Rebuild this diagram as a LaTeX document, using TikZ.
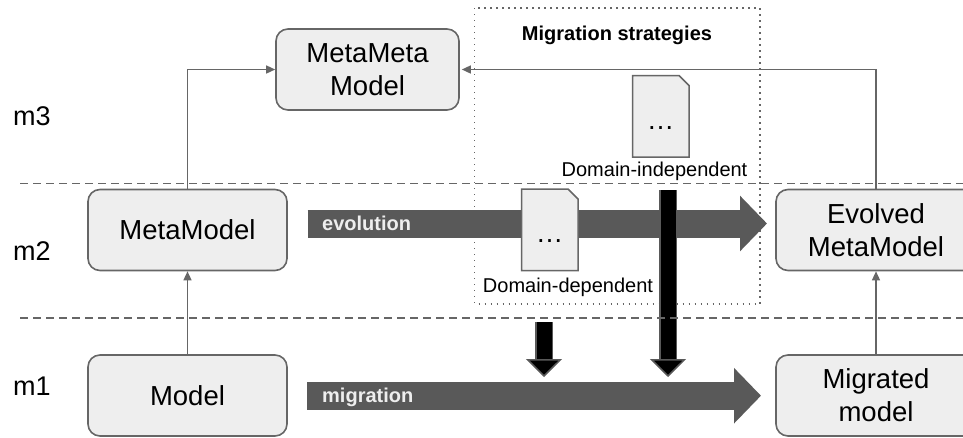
\documentclass[tikz,border=0pt]{standalone}
\usepackage{fontspec}
\setmainfont{Liberation Sans}
\usetikzlibrary{arrows.meta}
\definecolor{linegray}{HTML}{666666}
\definecolor{fillgray}{HTML}{EEEEEE}
\definecolor{bargray}{HTML}{595959}
\tikzset{
  modelbox/.style={draw=linegray,fill=fillgray,line width=1.6pt,rounded corners=12pt,align=center,
    font=\fontsize{27.5}{33}\selectfont,text=black,inner sep=0pt},
  levelline/.style={draw=linegray,line width=1.1pt,dash pattern=on 8pt off 5pt},
  link/.style={draw=linegray,line width=1.4pt,-{Triangle[length=9pt,width=8pt]}},
  fatarrow/.style={draw=bargray,line width=28pt,-{Triangle[length=27pt,width=54pt]}},
  blackarrow/.style={draw=bargray,line width=1.5pt,double=black,double distance=15pt,
    -{Triangle[length=18pt,width=36pt,fill=black,line width=1.5pt]}},
  docpage/.style={draw=linegray,fill=fillgray,line width=1.5pt},
  framebox/.style={draw=linegray,line width=1.4pt,dash pattern=on 1.4pt off 4.6pt},
  levellabel/.style={anchor=base west,inner sep=0pt,font=\fontsize{27}{32}\selectfont},
  smalllabel/.style={anchor=base,inner sep=0pt,font=\fontsize{20}{24}\selectfont},
  barlabel/.style={anchor=base west,inner sep=0pt,text=fillgray,font=\fontsize{20}{24}\selectfont\bfseries}
}
\begin{document}
\begin{tikzpicture}[x=1pt,y=-1pt]
  \clip (0,0) rectangle (963,437);
  % strategies frame
  \draw[framebox] (474.5,8) rectangle (760,304);
  \node[smalllabel,font=\fontsize{20}{24}\selectfont\bfseries] (strategies) at (617,40.5) {Migration strategies};

  % boxes
  \node[modelbox,minimum width=183pt,minimum height=81pt] (metameta) at (367.5,69.5) {MetaMeta\\Model};
  \node[modelbox,minimum width=199pt,minimum height=81pt] (metamodel) at (187.5,230) {MetaModel};
  \node[modelbox,minimum width=199pt,minimum height=81pt] (model) at (187.5,395.5) {Model};
  \node[modelbox,minimum width=200pt,minimum height=81pt] (evolved) at (876,230) {Evolved\\MetaModel};
  \node[modelbox,minimum width=200pt,minimum height=81pt] (migrated) at (876,395.5) {Migrated\\model};

  \node[levellabel] (m3) at (13,125) {m3};
  \node[levellabel] (m2) at (13,260) {m2};
  \node[levellabel] (m1) at (13,395) {m1};

  % links between levels
  \draw[link] (metamodel.north) |- (metameta.west);
  \draw[link] (evolved.north) |- ([xshift=2pt]metameta.east);
  \draw[link] (model.north) -- (metamodel.south);
  \draw[link] (migrated.north) -- (evolved.south);

  % evolution and migration
  \coordinate (evostart) at (307.5,223.5);
  \coordinate (evoend) at (767,223.5);
  \coordinate (migstart) at (307,395.7);
  \coordinate (migend) at (761,395.7);
  \draw[fatarrow] (evostart) -- (evoend);
  \draw[fatarrow] (migstart) -- (migend);
  \node[barlabel] (evolution) at (322,230.5) {evolution};
  \node[barlabel] (migration) at (322,402.5) {migration};

  % documents
  \draw[docpage] (632.5,75.5) -- (679,75.5) -- (689,85.5) -- (689,157) -- (632.5,157) -- cycle;
  \node[anchor=base,inner sep=0pt,font=\fontsize{27.5}{33}\selectfont] (docindep) at (660.5,129) {…};
  \node[smalllabel] (indeplabel) at (654.5,176) {Domain-independent};
  \draw[docpage] (521.5,189) -- (568,189) -- (578,199) -- (578,270.5) -- (521.5,270.5) -- cycle;
  \node[anchor=base,inner sep=0pt,font=\fontsize{27.5}{33}\selectfont] (docdep) at (549.5,242.5) {…};
  \node[smalllabel] (deplabel) at (568,292) {Domain-dependent};

  % black arrows
  \coordinate (longstart) at (668,190);
  \coordinate (longend) at (668,377);
  \coordinate (shortstart) at (544,322);
  \coordinate (shortend) at (544,377);
  \draw[blackarrow] (longstart) -- (longend);
  \draw[blackarrow] (shortstart) -- (shortend);

  \draw[levelline] (20,183.5) -- (963,183.5);
  \draw[levelline] (20,318) -- (963,318);
\end{tikzpicture}
\end{document}
